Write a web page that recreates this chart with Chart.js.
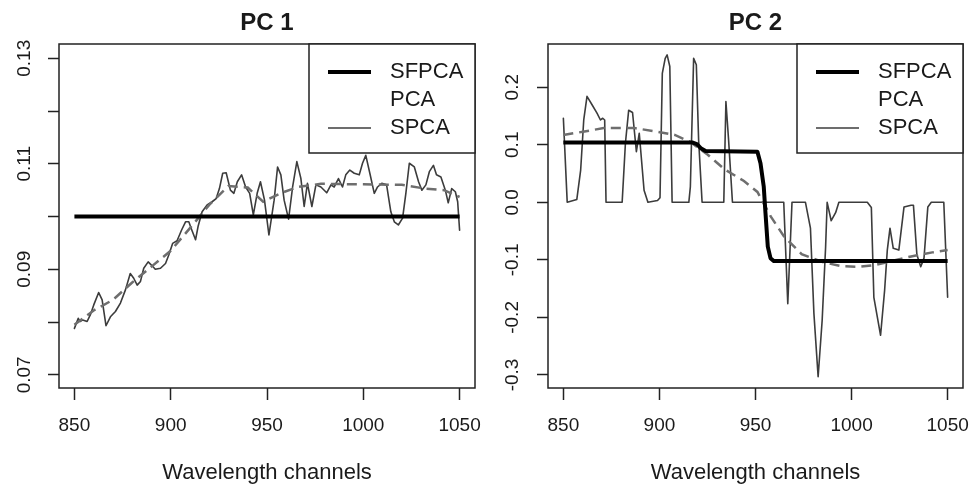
<!DOCTYPE html>
<html>
<head>
<meta charset="utf-8">
<script src="https://cdn.jsdelivr.net/npm/chart.js@4.4.1/dist/chart.umd.min.js"></script>
<style>
  html, body { margin: 0; padding: 0; background: #fff; }
  #wrap { position: relative; width: 976px; height: 491px; }
  .panel { position: absolute; top: 0; width: 488px; height: 491px; }
</style>
</head>
<body>
<div id="wrap">
  <div class="panel" style="left:0"><canvas id="pc1" width="488" height="491"></canvas></div>
  <div class="panel" style="left:488px"><canvas id="pc2" width="488" height="491"></canvas></div>
</div>
<script>
const FONT = '"Liberation Sans", Arial, Helvetica, sans-serif';

// axis ticks
const channelTicks = [850, 900, 950, 1000, 1050];
const pc1YTicks = [0.07, 0.08, 0.09, 0.10, 0.11, 0.12, 0.13];
const pc2YTicks = [-0.3, -0.2, -0.1, 0.0, 0.1, 0.2];
const seriesNames = ['SFPCA', 'PCA', 'SPCA'];

// PC 1
const pc1SfpcaX = [850, 1050];
const pc1SfpcaY = [0.1, 0.1];
const pc1PcaX = [850, 860, 870, 880, 890, 900, 910, 920, 930, 940, 948, 957, 966, 978, 1000, 1020, 1032, 1042, 1050];
const pc1PcaY = [0.0795, 0.0822, 0.0842, 0.0875, 0.0905, 0.0935, 0.0978, 0.1022, 0.1058, 0.1055, 0.1028, 0.1044, 0.1056, 0.1062, 0.1061, 0.1060, 0.1053, 0.1050, 0.1037];
const pc1SpcaX = [850, 852, 853, 854.3, 856.6, 858.3, 860, 862.6, 864.4, 866.4, 868.7, 871.3, 873.9, 876.5, 879, 880.8, 882.6, 884.3, 886, 888.3,
  890, 892, 894.7, 897.3, 899, 901, 903.3, 905.6, 907.7, 909.4, 911, 912.9, 914.2, 916.3, 918.9, 921.5, 923.6, 925.3, 927, 928.8,
  931, 932.8, 934.6, 936.8, 938.9, 941, 942.9, 944.9, 946.6, 948.7, 951, 953.7, 955.5, 957.2, 958.9, 961.2, 963.3, 965.5, 967.6, 969.3,
  971, 973.3, 975.4, 978, 981, 983.2, 984.9, 987.1, 989.2, 990.9, 993, 995.3, 997.9, 999.6, 1001.3, 1003.4, 1005.7, 1007.4, 1009.6, 1012.1,
  1014.3, 1016.1, 1018.2, 1020.4, 1022.1, 1023.9, 1026.5, 1028.7, 1030.4, 1032.5, 1034.3, 1036.4, 1038, 1040.3, 1042.6, 1044.1, 1045.9, 1047.8, 1049, 1050];
const pc1SpcaY = [0.0788, 0.0807, 0.0801, 0.0804, 0.0801, 0.0814, 0.0832, 0.0856, 0.0842, 0.0793, 0.0810, 0.0820, 0.0836, 0.0861, 0.0892, 0.0883, 0.0870, 0.0877, 0.0902, 0.0914,
  0.0908, 0.0900, 0.0902, 0.0911, 0.0927, 0.0949, 0.0954, 0.0974, 0.0990, 0.0990, 0.0974, 0.0956, 0.0981, 0.1009, 0.1022, 0.1028, 0.1034, 0.1053, 0.1082, 0.1083,
  0.1050, 0.1044, 0.1066, 0.1079, 0.1056, 0.1044, 0.1003, 0.1044, 0.1066, 0.1031, 0.0965, 0.1031, 0.1094, 0.1079, 0.1031, 0.0995, 0.1056, 0.1104, 0.1072, 0.1019,
  0.1063, 0.1019, 0.1060, 0.1056, 0.1045, 0.1060, 0.1056, 0.1072, 0.1056, 0.1079, 0.1088, 0.1082, 0.1079, 0.1101, 0.1116, 0.1082, 0.1044, 0.1056, 0.1063, 0.1060,
  0.1009, 0.0990, 0.0984, 0.0997, 0.1044, 0.1101, 0.1094, 0.1066, 0.1050, 0.1060, 0.1085, 0.1097, 0.1079, 0.1075, 0.1050, 0.1026, 0.1053, 0.1047, 0.1028, 0.0974];

// PC 2
const pc2SfpcaX = [850, 917, 919.5, 921.5, 924, 951, 952.6, 954.3, 955.2, 956.4, 957.8, 959.5, 1050];
const pc2SfpcaY = [0.104, 0.104, 0.101, 0.094, 0.089, 0.088, 0.068, 0.027, -0.019, -0.077, -0.097, -0.102, -0.102];
const pc2PcaX = [850, 861, 871, 887, 899, 908, 916, 925, 934, 944, 951, 958, 965, 974, 985, 995, 1004, 1012, 1021, 1031, 1042, 1050];
const pc2PcaY = [0.117, 0.123, 0.129, 0.129, 0.1225, 0.117, 0.105, 0.083, 0.057, 0.037, 0.018, -0.025, -0.06, -0.09, -0.104, -0.111, -0.112, -0.109, -0.102, -0.094, -0.087, -0.083];
const pc2SpcaX = [850, 852, 857, 859, 860.6, 862.3, 865, 867.5, 869.3, 870.5, 871.5, 872.2, 880.6, 882.3, 884, 886, 888, 889.5, 892, 894,
  899, 900.3, 901.5, 903, 904, 905.4, 906.6, 915.3, 916.1, 917.8, 919.2, 920.4, 922.2, 933.5, 934.6, 936, 938, 964.7, 966.8, 969,
  976, 978.6, 980.4, 982.6, 984.7, 986.5, 987.3, 989.4, 991.7, 993.4, 1008.2, 1010.3, 1011.6, 1015.1, 1017.2, 1018.6, 1020, 1021.7, 1024.6, 1027.3,
  1031, 1032.2, 1034, 1036, 1037.7, 1039.7, 1041.5, 1048, 1050];
const pc2SpcaY = [0.146, 0.0, 0.005, 0.056, 0.143, 0.184, 0.169, 0.155, 0.143, 0.146, 0.143, 0.0, 0.0, 0.103, 0.16, 0.156, 0.088, 0.12, 0.021, 0.0,
  0.003, 0.008, 0.224, 0.25, 0.256, 0.236, 0.0, 0.0, 0.027, 0.25, 0.239, 0.108, 0.0, 0.0, 0.175, 0.108, 0.0, 0.0, -0.176, 0.0,
  0.0, -0.045, -0.193, -0.303, -0.205, -0.077, 0.0, -0.032, -0.018, 0.0, 0.0, -0.009, -0.165, -0.231, -0.153, -0.083, -0.045, -0.08, -0.083, -0.008,
  -0.005, -0.005, -0.091, -0.112, -0.097, -0.008, 0.0, 0.0, -0.165];

const legendSample = [true, false, true];

function pts(xs, ys) {
  return xs.map((x, i) => ({ x: x, y: ys[i] }));
}

// R-like frame, title, rotated y labels and legend box
const rStyle = {
  id: 'rStyle',
  afterDraw(chart, args, opts) {
    const { ctx, chartArea: a, scales } = chart;
    ctx.save();
    ctx.strokeStyle = '#222';
    ctx.lineWidth = 1.5;
    ctx.strokeRect(a.left, a.top, a.right - a.left, a.bottom - a.top);

    ctx.fillStyle = '#1a1a1a';
    ctx.font = 'bold 24px ' + FONT;
    ctx.textAlign = 'center';
    ctx.textBaseline = 'middle';
    ctx.fillText(opts.title, (a.left + a.right) / 2, 23);

    ctx.font = '19px ' + FONT;
    scales.y.ticks.forEach(t => {
      if (!t.label) return;
      const py = scales.y.getPixelForValue(t.value);
      ctx.save();
      ctx.translate(25, py);
      ctx.rotate(-Math.PI / 2);
      ctx.fillText(t.label, 0, 0);
      ctx.restore();
    });

    const bw = 166, bh = 109;
    const bx = a.right - bw, by = a.top;
    ctx.fillStyle = '#fff';
    ctx.fillRect(bx, by, bw, bh);
    ctx.strokeRect(bx, by, bw, bh);
    ctx.font = '22px ' + FONT;
    ctx.textAlign = 'left';
    chart.data.datasets.forEach((ds, i) => {
      const y = by + 28 + i * 28;
      if (legendSample[i]) {
        ctx.beginPath();
        ctx.strokeStyle = ds.borderColor;
        ctx.lineWidth = ds.borderWidth;
        ctx.moveTo(bx + 19, y);
        ctx.lineTo(bx + 62, y);
        ctx.stroke();
      }
      ctx.fillStyle = '#1a1a1a';
      ctx.fillText(ds.label, bx + 81, y);
    });
    ctx.restore();
  }
};

function makeChart(id, title, yMin, yMax, yTicks, yLabel, yWidth, series) {
  return new Chart(document.getElementById(id), {
    type: 'line',
    data: {
      datasets: [
        { label: seriesNames[0], data: series[0], borderColor: '#000', borderWidth: 4, borderJoinStyle: 'round' },
        { label: seriesNames[1], data: series[1], borderColor: '#6e6e6e', borderWidth: 2.5, borderDash: [10, 6] },
        { label: seriesNames[2], data: series[2], borderColor: '#3c3c3c', borderWidth: 1.6, borderJoinStyle: 'round', borderCapStyle: 'round' }
      ]
    },
    options: {
      responsive: false,
      animation: false,
      elements: { point: { radius: 0 }, line: { tension: 0 } },
      layout: { padding: { top: 44, right: 13, left: 0, bottom: 0 } },
      plugins: {
        legend: { display: false },
        tooltip: { enabled: false },
        rStyle: { title: title }
      },
      scales: {
        x: {
          type: 'linear',
          min: 842,
          max: 1058,
          afterBuildTicks: s => { s.ticks = channelTicks.map(v => ({ value: v })); },
          afterFit: s => { s.height = 103; s.paddingLeft = 0; s.paddingRight = 0; },
          border: { display: false },
          grid: { drawOnChartArea: false, drawTicks: true, tickLength: 12, tickColor: '#222', tickWidth: 1.5 },
          ticks: {
            font: { family: FONT, size: 19 }, color: '#1a1a1a', padding: 14, maxRotation: 0, autoSkip: false,
            callback: v => String(v)
          },
          title: { display: true, text: 'Wavelength channels', font: { family: FONT, size: 22 }, color: '#1a1a1a', padding: { top: 0, bottom: 5 } }
        },
        y: {
          type: 'linear',
          min: yMin,
          max: yMax,
          afterBuildTicks: s => { s.ticks = yTicks.map(v => ({ value: v })); },
          afterFit: s => { s.width = yWidth; s.paddingTop = 0; s.paddingBottom = 0; },
          border: { display: false },
          grid: { drawOnChartArea: false, drawTicks: true, tickLength: 11, tickColor: '#222', tickWidth: 1.5 },
          ticks: { display: false, callback: yLabel }
        }
      }
    },
    plugins: [rStyle]
  });
}

makeChart('pc1', 'PC 1', 0.0675, 0.1327, pc1YTicks,
  (v, i) => (i % 2 === 0 ? v.toFixed(2) : ''), 59,
  [pts(pc1SfpcaX, pc1SfpcaY), pts(pc1PcaX, pc1PcaY), pts(pc1SpcaX, pc1SpcaY)]);

makeChart('pc2', 'PC 2', -0.3226, 0.275, pc2YTicks,
  v => v.toFixed(1), 60,
  [pts(pc2SfpcaX, pc2SfpcaY), pts(pc2PcaX, pc2PcaY), pts(pc2SpcaX, pc2SpcaY)]);
</script>
</body>
</html>
